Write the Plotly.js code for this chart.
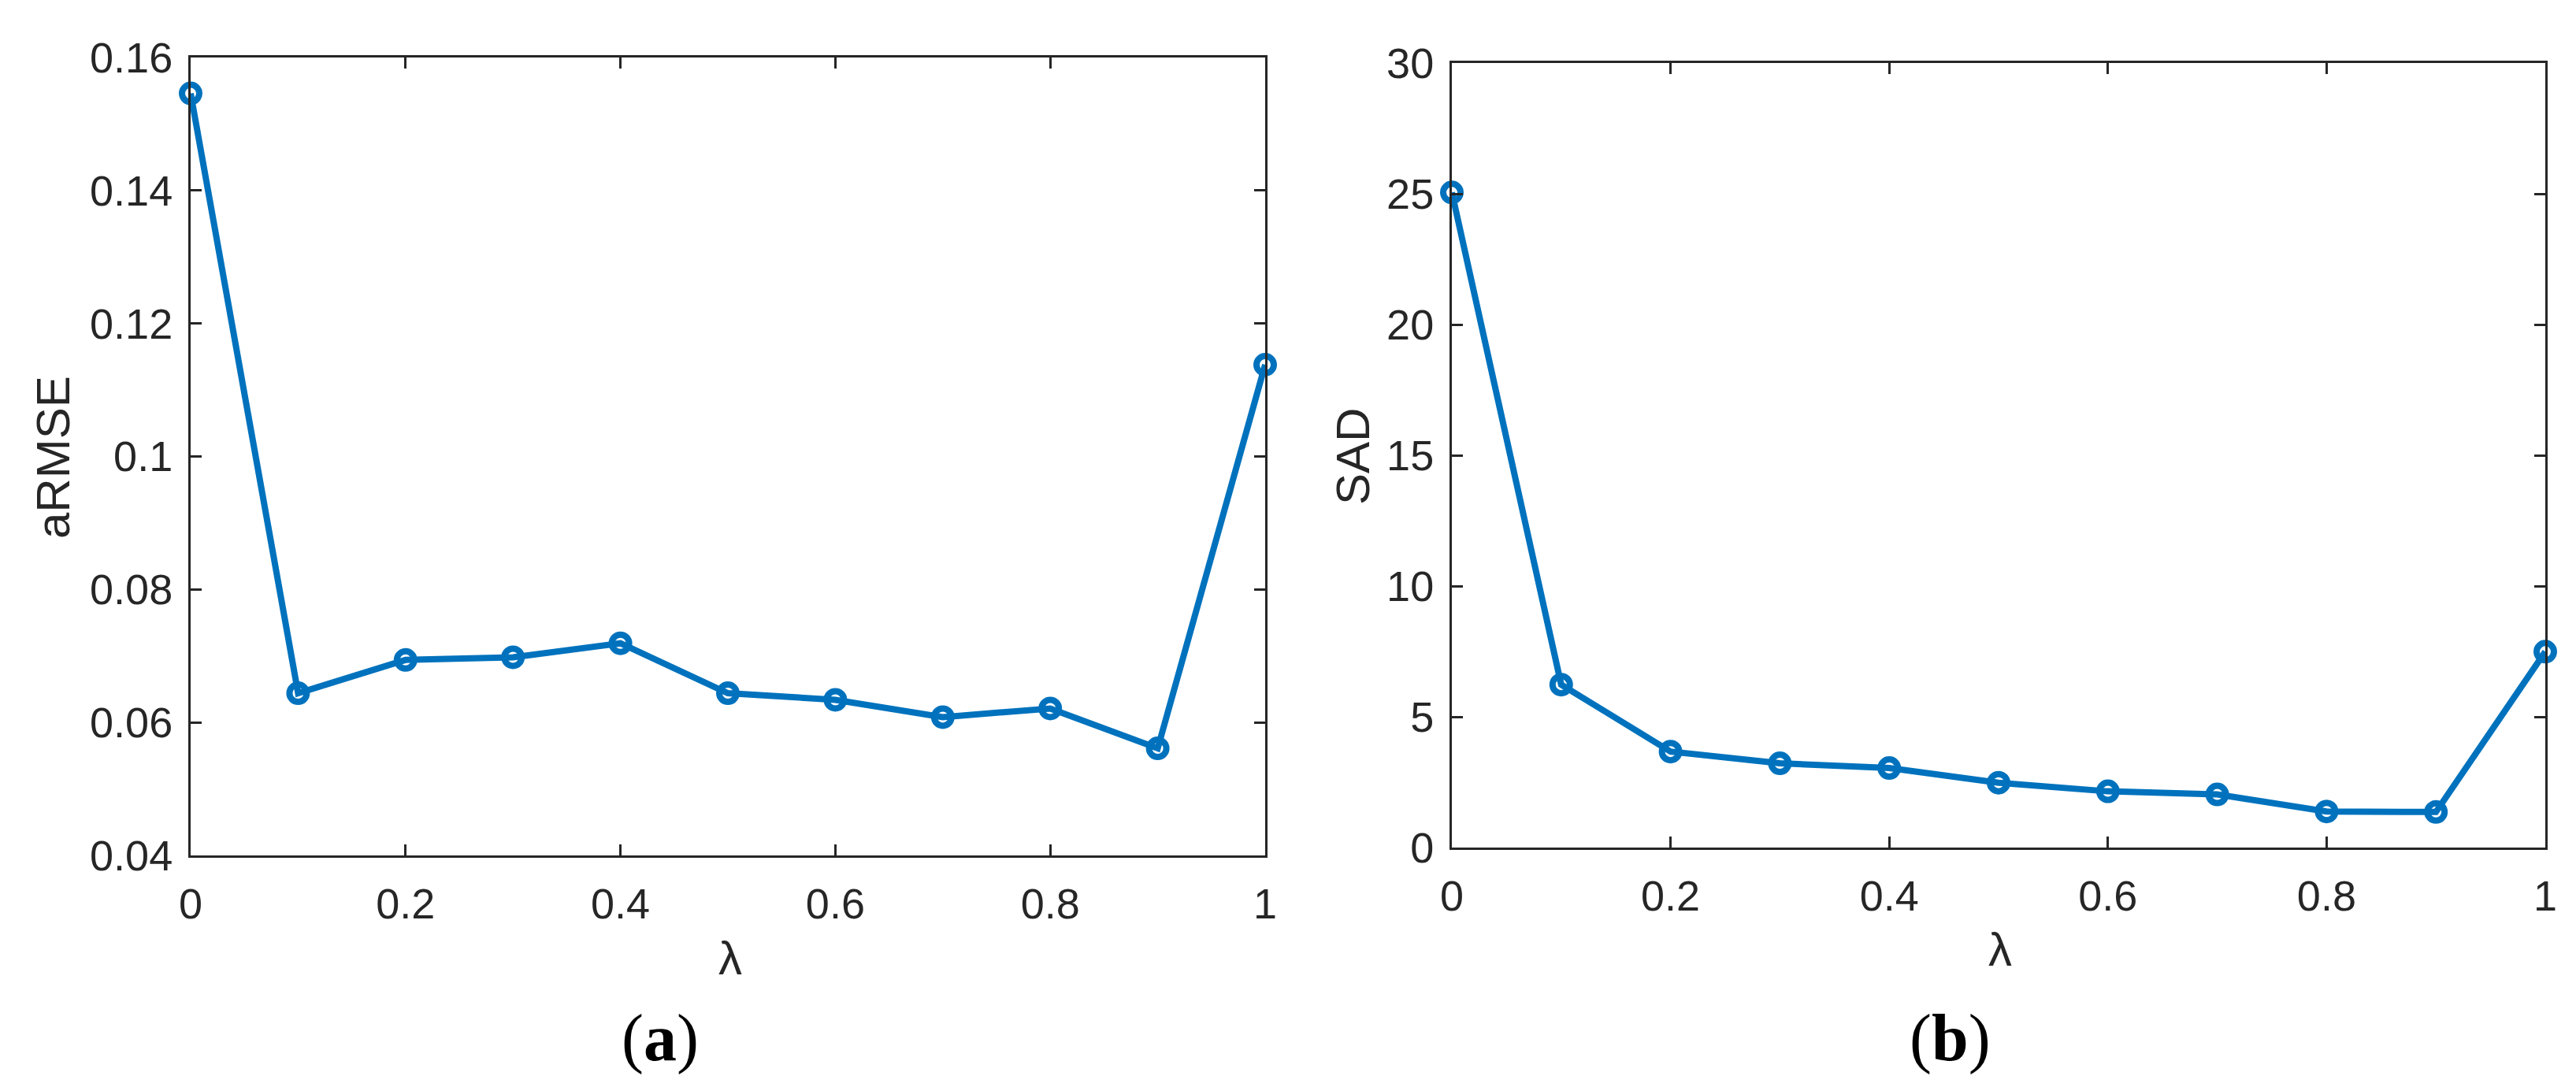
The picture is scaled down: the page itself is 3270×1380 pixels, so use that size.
<!DOCTYPE html>
<html>
<head>
<meta charset="utf-8">
<script src="https://cdn.plot.ly/plotly-3.0.1.min.js"></script>
<style>html,body{margin:0;padding:0;background:#fff;}#chart{width:3270px;height:1380px;}</style>
</head>
<body>
<div id="chart"></div>
<script>
// ---- data ----
const lambdaValues = [0, 0.1, 0.2, 0.3, 0.4, 0.5, 0.6, 0.7, 0.8, 0.9, 1.0];
const armseValues  = [0.1546, 0.0644, 0.0694, 0.0698, 0.0719, 0.0644, 0.0634, 0.0608, 0.0621, 0.0561, 0.1138];
const sadValues    = [25.05, 6.23, 3.67, 3.22, 3.04, 2.48, 2.15, 2.03, 1.38, 1.36, 7.49];

const xTickVals   = [0, 0.2, 0.4, 0.6, 0.8, 1];
const xTickText   = ['0', '0.2', '0.4', '0.6', '0.8', '1'];
const armseTickVals = [0.04, 0.06, 0.08, 0.10, 0.12, 0.14, 0.16];
const armseTickText = ['0.04', '0.06', '0.08', '0.1', '0.12', '0.14', '0.16'];
const sadTickVals = [0, 5, 10, 15, 20, 25, 30];
const sadTickText = ['0', '5', '10', '15', '20', '25', '30'];

const yTitles = ['aRMSE', 'SAD'];
const xTitle = 'λ';
const captions = ['(<b>a</b>)', '(<b>b</b>)'];

// ---- styling ----
const W = 3270, H = 1380;
const blue = '#0072BD';
const axCol = '#262626';
const tickFont = {family: '"Liberation Sans", Arial, sans-serif', size: 54, color: axCol};

function px(x) { return x / W; }
function py(y) { return 1 - y / H; }

function axisBase(extra) {
  return Object.assign({
    showline: true, linecolor: axCol, linewidth: 3, mirror: 'ticks',
    ticks: 'inside', ticklen: 14, tickwidth: 3, tickcolor: axCol,
    showgrid: false, zeroline: false, tickfont: tickFont, fixedrange: true
  }, extra);
}

const traceStyle = {
  mode: 'lines+markers',
  line: {color: blue, width: 8},
  marker: {symbol: 'circle-open', size: 22, color: blue, line: {color: blue, width: 8}},
  showlegend: false, cliponaxis: false
};

const data = [
  Object.assign({x: lambdaValues, y: armseValues, xaxis: 'x', yaxis: 'y'}, traceStyle),
  Object.assign({x: lambdaValues, y: sadValues, xaxis: 'x2', yaxis: 'y2'}, traceStyle)
];

const layout = {
  width: W, height: H,
  margin: {l: 0, r: 0, t: 0, b: 0},
  paper_bgcolor: '#ffffff', plot_bgcolor: '#ffffff',
  xaxis: axisBase({domain: [px(242), px(1606)], range: [0, 1], tickvals: xTickVals, ticktext: xTickText, anchor: 'y', ticklabelstandoff: 12}),
  yaxis: axisBase({domain: [py(1086), py(73)], range: [0.04, 0.16], tickvals: armseTickVals, ticktext: armseTickText, anchor: 'x', ticklabelstandoff: 9}),
  xaxis2: axisBase({domain: [px(1843), px(3231)], range: [0, 1], tickvals: xTickVals, ticktext: xTickText, anchor: 'y2', ticklabelstandoff: 12}),
  yaxis2: axisBase({domain: [py(1076), py(80)], range: [0, 30], tickvals: sadTickVals, ticktext: sadTickText, anchor: 'x2', ticklabelstandoff: 9}),
  annotations: [
    {text: yTitles[0], x: px(67), y: py(581), textangle: -90},
    {text: yTitles[1], x: px(1717), y: py(580), textangle: -90},
    {text: xTitle, x: px(927), y: py(1216)},
    {text: xTitle, x: px(2539), y: py(1205)},
    {text: captions[0], x: px(838), y: py(1318), font: {family: '"Liberation Serif", "Times New Roman", serif', size: 84, color: '#000'}},
    {text: captions[1], x: px(2475), y: py(1318), font: {family: '"Liberation Serif", "Times New Roman", serif', size: 84, color: '#000'}}
  ].map(a => Object.assign({xref: 'paper', yref: 'paper', showarrow: false, xanchor: 'center', yanchor: 'middle',
        font: {family: '"Liberation Sans", Arial, sans-serif', size: 60, color: axCol}}, a))
};

Plotly.newPlot('chart', data, layout, {staticPlot: true, displayModeBar: false});
</script>
</body>
</html>
